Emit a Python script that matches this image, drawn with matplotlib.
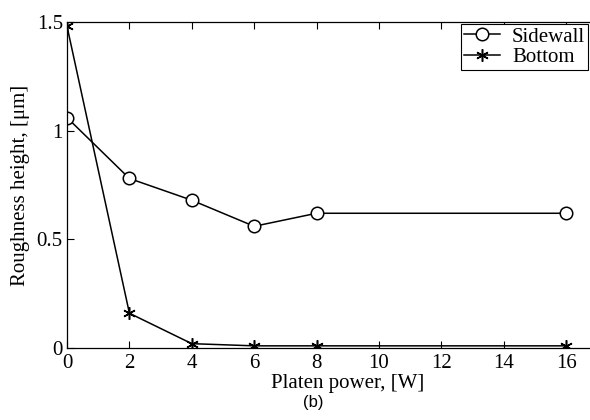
import matplotlib
matplotlib.use("Agg")
import matplotlib.pyplot as plt

# data
power = [0, 2, 4, 6, 8, 16]
sidewall = [1.06, 0.78, 0.68, 0.56, 0.62, 0.62]
bottom = [1.48, 0.16, 0.02, 0.01, 0.01, 0.01]
xticks = [0, 2, 4, 6, 8, 10, 12, 14, 16]
yticks = [0, 0.5, 1, 1.5]

plt.rcParams['font.family'] = ['Liberation Serif', 'DejaVu Serif']

fig = plt.figure(figsize=(5.9, 4.2), dpi=100)
# axes run past the right edge of the picture, as in the cropped original
ax = fig.add_axes([0.1136, 0.1714, 0.9516, 0.7762])

ax.plot(power, sidewall, color='black', lw=1.1, marker='o', ms=9,
        mfc='white', mec='black', mew=1.1, label='Sidewall')
ax.plot(power, bottom, color='black', lw=1.1, marker=(6, 2, 0), ms=9,
        mew=1.1, label='Bottom')

ax.set_xlim(0, 18)
ax.set_ylim(0, 1.5)
ax.set_xticks(xticks)
ax.set_xticklabels([str(t) for t in xticks])
ax.set_yticks(yticks)
ax.set_yticklabels(['0', '0.5', '1', '1.5'])
ax.tick_params(direction='in', top=True, right=True, labelsize=15, pad=3,
               length=5, width=0.8)
ax.tick_params(axis='x', pad=4)
for s in ax.spines.values():
    s.set_linewidth(0.9)

ax.set_xlabel('Platen power, [W]', fontsize=15, labelpad=1)
ax.set_ylabel('Roughness height, [μm]', fontsize=15, labelpad=5)

leg = ax.legend(loc='upper left', bbox_to_anchor=(461 / 590, 1 - 24 / 420),
                bbox_transform=fig.transFigure, fontsize=15, fancybox=False,
                framealpha=1, edgecolor='black', borderpad=0.15,
                labelspacing=0.05, handlelength=1.7, handletextpad=0.6,
                borderaxespad=0)
leg.get_frame().set_linewidth(0.8)

fig.text(313 / 590, 1 - 402 / 420, '(b)', ha='center', va='center',
         fontsize=12, family='Liberation Sans')

fig.savefig('out.png', dpi=100)
